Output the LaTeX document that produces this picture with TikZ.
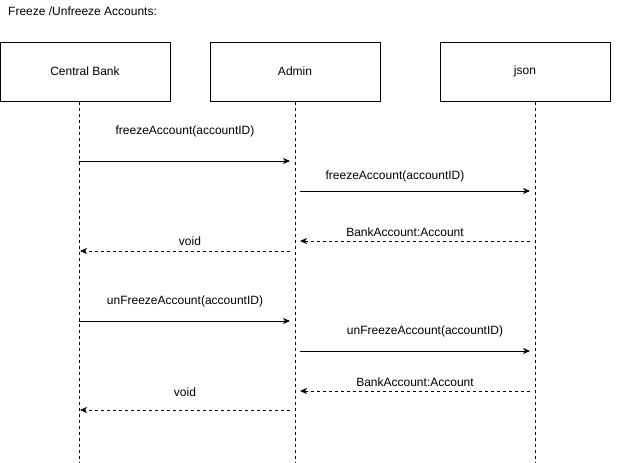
\documentclass[tikz,border=0pt]{standalone}
\usepackage{fontspec}
\setmainfont{Liberation Sans}
\usetikzlibrary{arrows.meta}
\begin{document}
\begin{tikzpicture}[x=1pt,y=-1pt,
  font=\fontsize{12}{14}\selectfont,
  actor/.style={draw,line width=0.8pt,minimum width=170pt,minimum height=59pt,inner sep=0pt},
  life/.style={line width=0.8pt,dash pattern=on 3pt off 3pt},
  msg/.style={line width=0.8pt,-{Stealth[length=7pt,width=6pt,inset=2pt]}},
  ret/.style={msg,dash pattern=on 3pt off 3pt},
  lbl/.style={inner sep=0pt,anchor=center}]
\useasboundingbox (0,0) rectangle (621,463);
\node[anchor=west,inner sep=0pt] (title) at (8,11) {Freeze /Unfreeze Accounts:};
\node[actor] (cb) at (85,71.5) {Central Bank};
\node[actor] (ad) at (295,71.5) {Admin};
\node[actor] (js) at (525,71.5) {json};
% lifelines
\coordinate (cbt) at (79,101.5); \coordinate (cbb) at (79,463);
\coordinate (adt) at (295,101.5); \coordinate (adb) at (295,463);
\coordinate (jst) at (535,101.5); \coordinate (jsb) at (535,463);
\draw[life] (cbt) -- (cbb);
\draw[life] (adt) -- (adb);
\draw[life] (jst) -- (jsb);
% messages
\coordinate (a1s) at (79,161); \coordinate (a1e) at (290,161);
\draw[msg] (a1s) -- (a1e);
\node[lbl] (l1) at (185,131) {freezeAccount(accountID)};
\coordinate (a2s) at (300,191); \coordinate (a2e) at (530,191);
\draw[msg] (a2s) -- (a2e);
\node[lbl] (l2) at (395,176) {freezeAccount(accountID)};
\coordinate (a3s) at (530,241); \coordinate (a3e) at (300,241);
\draw[ret] (a3s) -- (a3e);
\node[lbl] (l3) at (405,232) {BankAccount:Account};
\coordinate (a4s) at (290,251); \coordinate (a4e) at (80,251);
\draw[ret] (a4s) -- (a4e);
\node[lbl] (l4) at (190,241) {void};
\coordinate (a5s) at (79,321); \coordinate (a5e) at (290,321);
\draw[msg] (a5s) -- (a5e);
\node[lbl] (l5) at (185,301) {unFreezeAccount(accountID)};
\coordinate (a6s) at (300,351); \coordinate (a6e) at (530,351);
\draw[msg] (a6s) -- (a6e);
\node[lbl] (l6) at (425,331) {unFreezeAccount(accountID)};
\coordinate (a7s) at (530,391); \coordinate (a7e) at (300,391);
\draw[ret] (a7s) -- (a7e);
\node[lbl] (l7) at (415,382) {BankAccount:Account};
\coordinate (a8s) at (290,410); \coordinate (a8e) at (80,410);
\draw[ret] (a8s) -- (a8e);
\node[lbl] (l8) at (185,392) {void};
\end{tikzpicture}
\end{document}
